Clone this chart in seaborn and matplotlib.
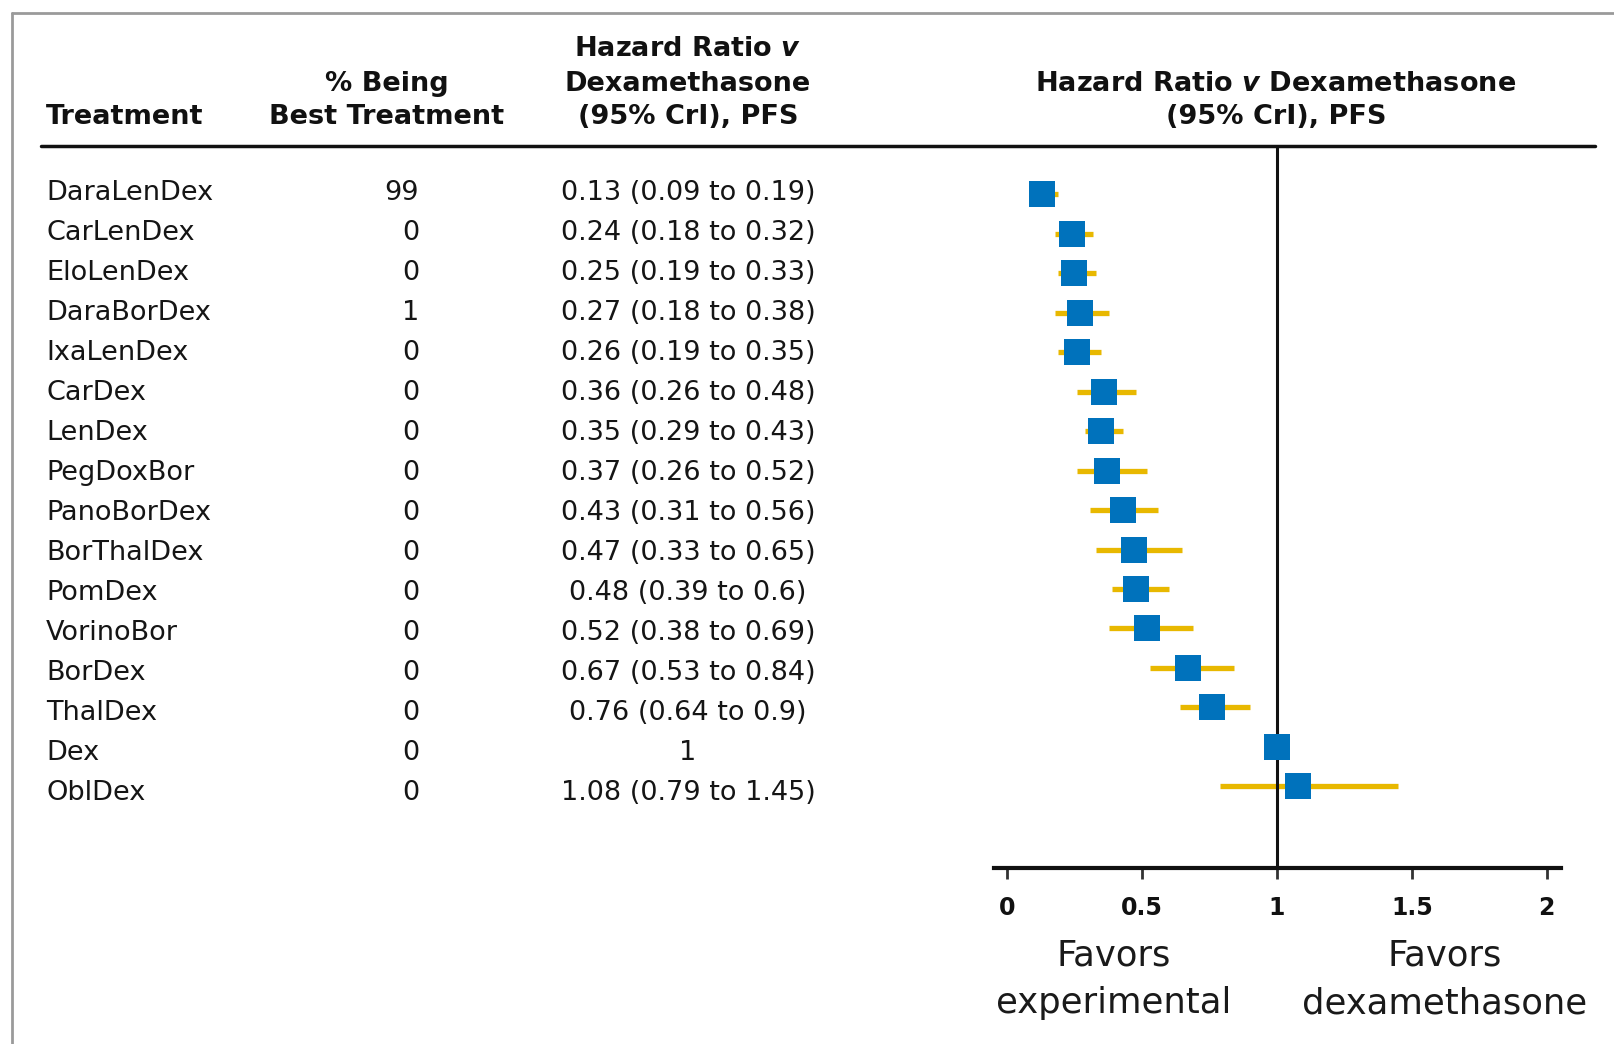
import numpy as np
import pandas as pd
import matplotlib
matplotlib.use('Agg')
import matplotlib.pyplot as plt
import seaborn as sns

# 데이터
treatments = ['DaraLenDex', 'CarLenDex', 'EloLenDex', 'DaraBorDex', 'IxaLenDex',
              'CarDex', 'LenDex', 'PegDoxBor', 'PanoBorDex', 'BorThalDex',
              'PomDex', 'VorinoBor', 'BorDex', 'ThalDex', 'Dex', 'OblDex']
pct_best = [99, 0, 0, 1, 0, 0, 0, 0, 0, 0, 0, 0, 0, 0, 0, 0]
hr = [0.13, 0.24, 0.25, 0.27, 0.26, 0.36, 0.35, 0.37, 0.43, 0.47, 0.48, 0.52, 0.67, 0.76, 1, 1.08]
hr_lo = [0.09, 0.18, 0.19, 0.18, 0.19, 0.26, 0.29, 0.26, 0.31, 0.33, 0.39, 0.38, 0.53, 0.64, 1, 0.79]
hr_hi = [0.19, 0.32, 0.33, 0.38, 0.35, 0.48, 0.43, 0.52, 0.56, 0.65, 0.6, 0.69, 0.84, 0.9, 1, 1.45]
xticks = [0, 0.5, 1, 1.5, 2]
xtick_labels = ['0', '0.5', '1', '1.5', '2']

df = pd.DataFrame({'treatment': treatments, 'pct': pct_best,
                   'hr': hr, 'lo': hr_lo, 'hi': hr_hi})
df['row'] = np.arange(len(df))

sns.set_theme(style='white')
plt.rcParams['font.family'] = ['DejaVu Sans']
plt.rcParams['mathtext.fontset'] = 'custom'
plt.rcParams['mathtext.it'] = 'DejaVu Sans:italic:bold'
plt.rcParams['mathtext.rm'] = 'DejaVu Sans:bold'

BLUE = '#0072BC'
GOLD = '#E8B800'

fig = plt.figure(figsize=(16.14, 10.44), dpi=100)

# 표 부분 : 픽셀 좌표계 축
tx = fig.add_axes([0, 0, 1, 1])
tx.set_xlim(0, 1614)
tx.set_ylim(1044, 0)
tx.axis('off')

# 회색 테두리 (왼쪽, 위)
tx.plot([12, 12], [1044, 13], color='#9a9a9a', lw=2)
tx.plot([12, 1614], [13, 13], color='#9a9a9a', lw=2)

# 헤더
hdr = dict(fontsize=19.5, fontweight='bold', color='#111111', va='center')
tx.text(46, 117, 'Treatment', ha='left', **hdr)
tx.text(387, 84, '% Being', ha='center', **hdr)
tx.text(387, 117, 'Best Treatment', ha='center', **hdr)
tx.text(688, 49, r'Hazard Ratio $\mathit{v}$', ha='center', **hdr)
tx.text(688, 84, 'Dexamethasone', ha='center', **hdr)
tx.text(688, 117, '(95% CrI), PFS', ha='center', **hdr)
tx.text(1276, 84, r'Hazard Ratio $\mathit{v}$ Dexamethasone', ha='center', **hdr)
tx.text(1276, 117, '(95% CrI), PFS', ha='center', **hdr)
tx.plot([41, 1595], [146, 146], color='#111111', lw=2.5)

# 행 텍스트
row0, step = 193.5, 39.94
body = dict(fontsize=19.5, color='#151515', va='center')
for i, r in df.iterrows():
    y = row0 + i * step
    tx.text(46, y, r['treatment'], ha='left', **body)
    tx.text(419, y, f"{r['pct']:g}", ha='right', **body)
    if r['lo'] == r['hi']:
        s = f"{r['hr']:g}"
    else:
        s = f"{r['hr']:g} ({r['lo']:g} to {r['hi']:g})"
    tx.text(688, y, s, ha='center', **body)

# 포레스트 플롯
ax = fig.add_axes([0.6159, 0.1686, 0.3513, 0.6916])
ax.set_facecolor('none')
ax.hlines(df['row'], df['lo'], df['hi'], color=GOLD, lw=3.8, zorder=1)
ax.axvline(1, color='#111111', lw=2.2, zorder=2)
sns.scatterplot(data=df, x='hr', y='row', marker='s', s=360, color=BLUE,
                edgecolor=BLUE, linewidth=0, zorder=3, ax=ax, legend=False)
ax.set_xlim(-0.047, 2.053)
ax.set_ylim(17.07, -1.229)
ax.set_xticks(xticks)
ax.set_xticklabels(xtick_labels, fontsize=17, fontweight='bold', color='#111111')
ax.set_yticks([])
ax.set_xlabel('')
ax.set_ylabel('')
for sp in ['top', 'left', 'right']:
    ax.spines[sp].set_visible(False)
ax.spines['bottom'].set_linewidth(3)
ax.spines['bottom'].set_color('#111111')
ax.tick_params(axis='x', direction='out', length=8, width=2, color='#333333', pad=12,
               bottom=True)

# 하단 설명
fav = dict(fontsize=25.5, color='#1a1a1a', ha='center', va='center')
tx.text(1114, 956, 'Favors', **fav)
tx.text(1114, 1003, 'experimental', **fav)
tx.text(1445, 956, 'Favors', **fav)
tx.text(1445, 1003, 'dexamethasone', **fav)

fig.savefig('out.png', dpi=100)
